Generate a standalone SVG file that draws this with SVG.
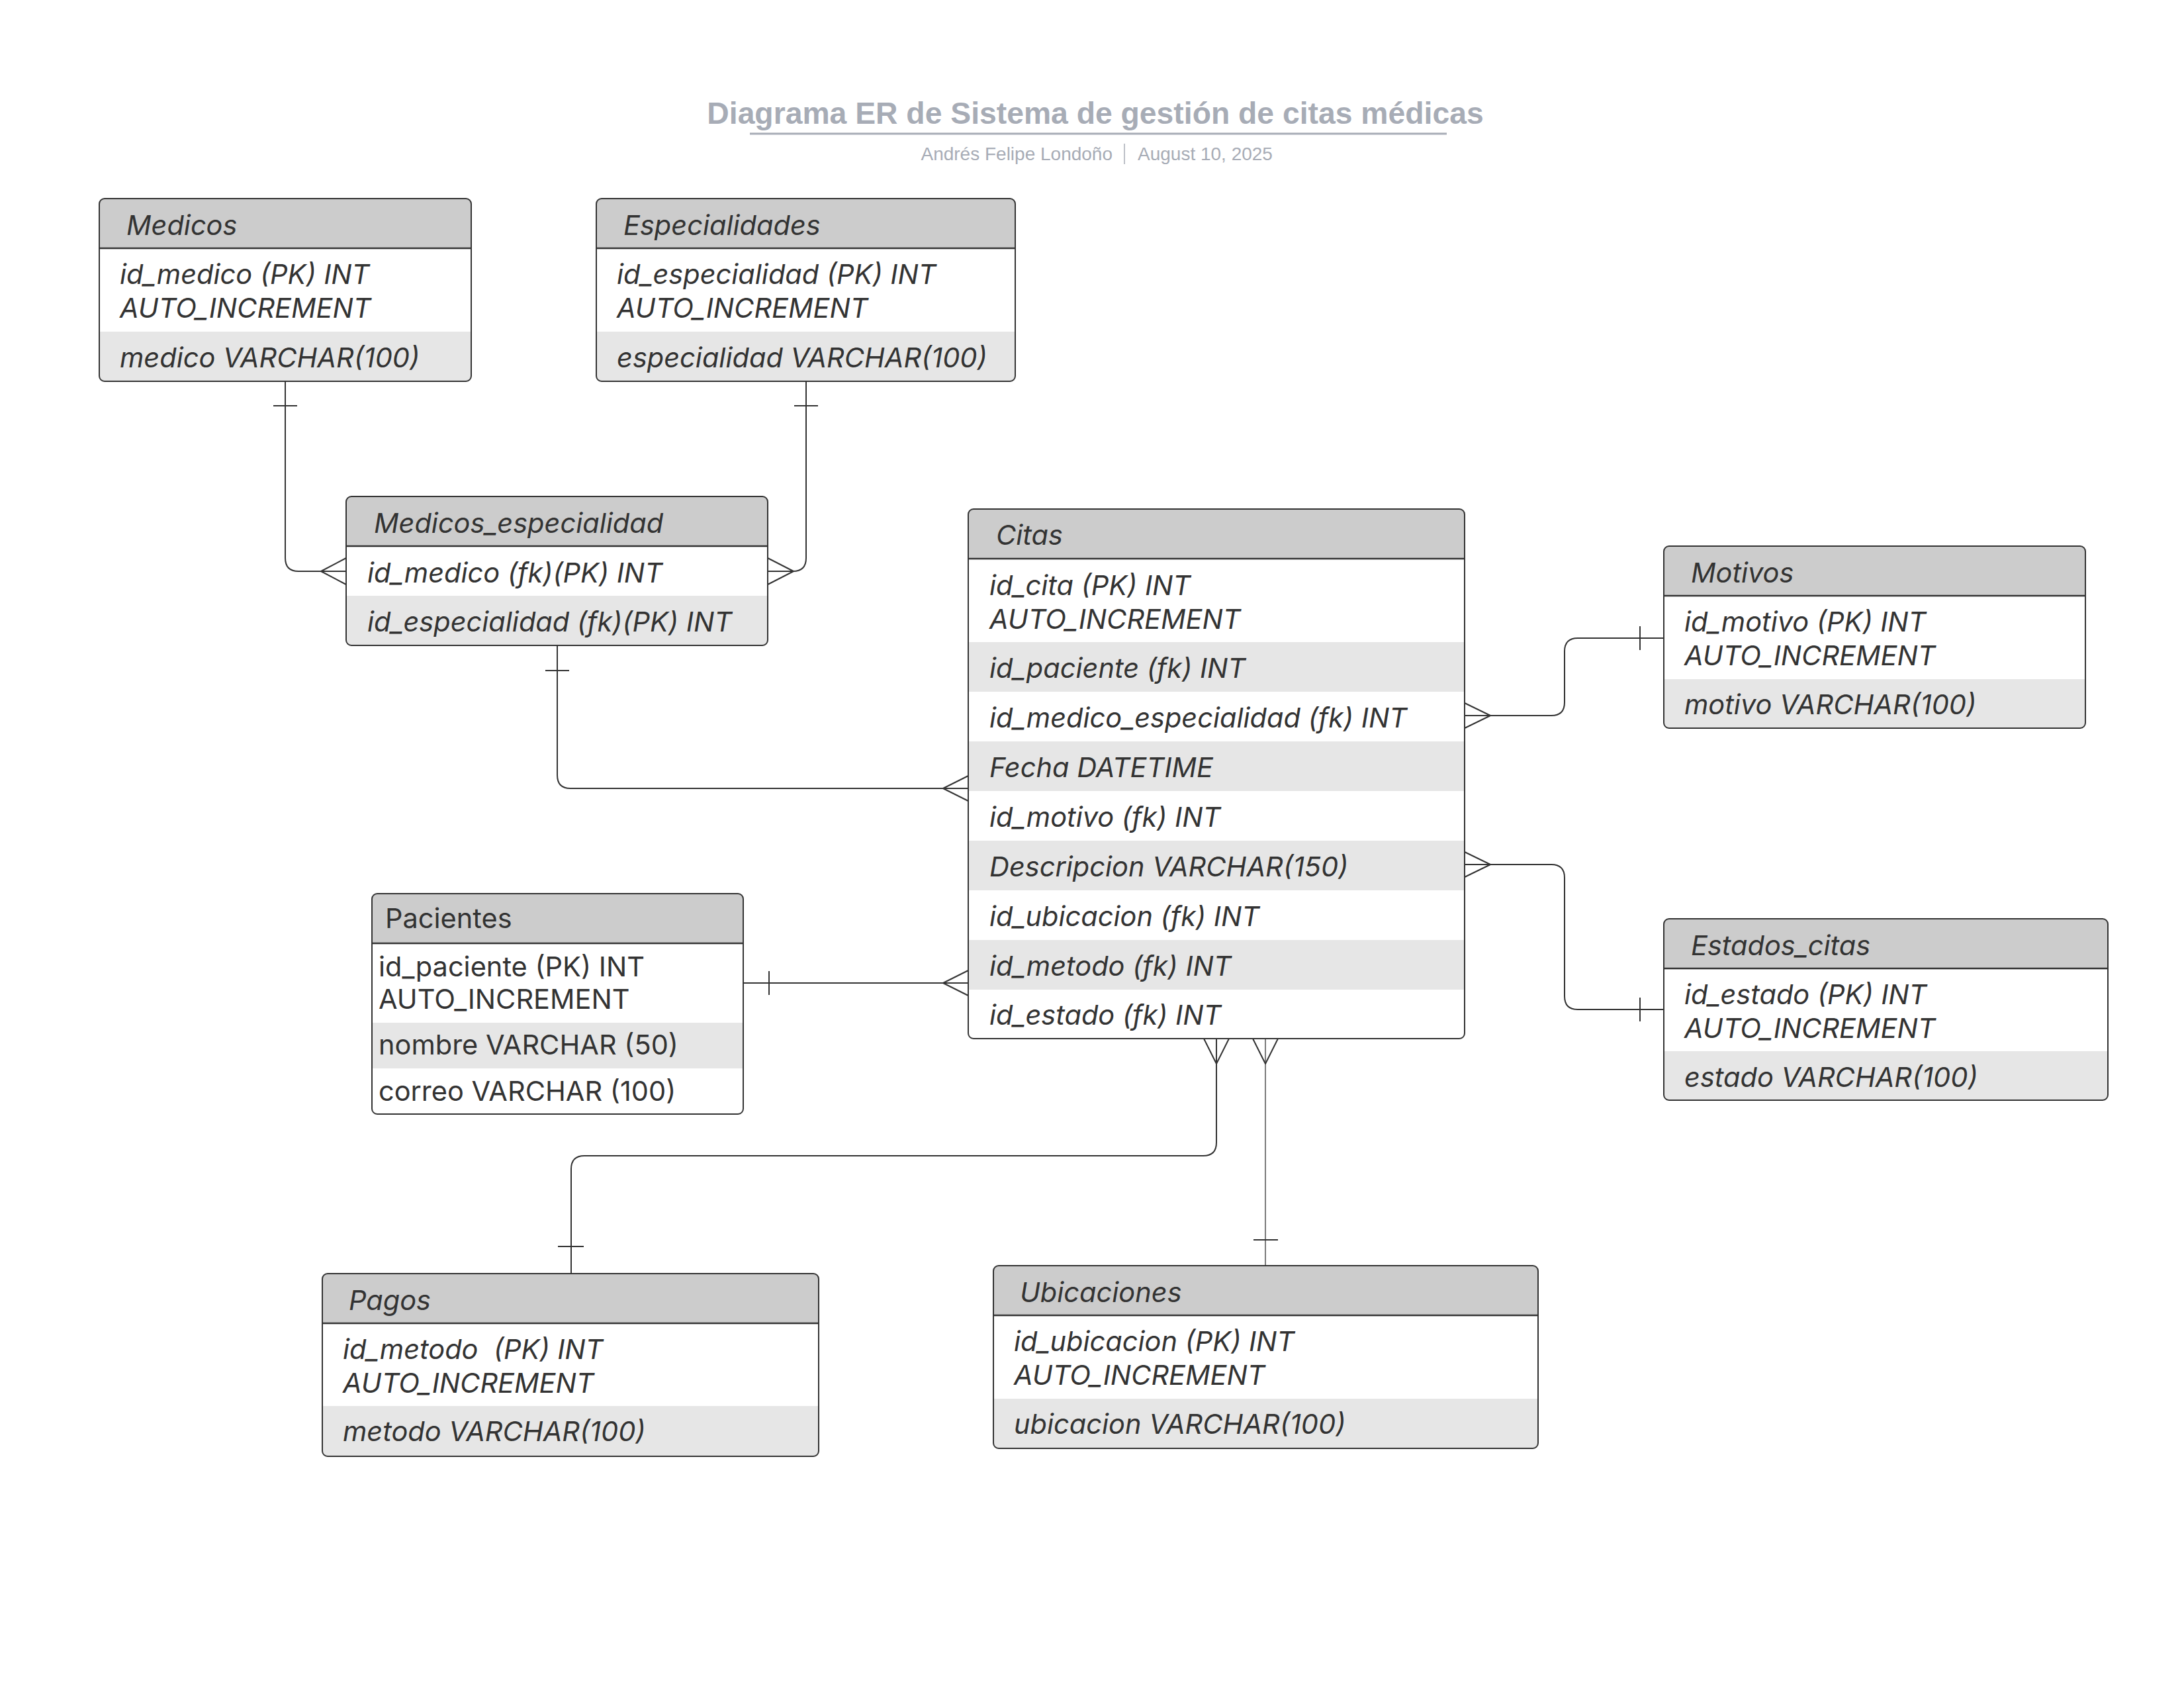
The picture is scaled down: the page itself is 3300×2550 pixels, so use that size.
<svg xmlns="http://www.w3.org/2000/svg" width="3300" height="2550" viewBox="0 0 3300 2550">
  <style>
    .bg { fill: #ffffff; }
    .title { font-family: "Liberation Sans", Arial, sans-serif; font-weight: bold; font-size: 46.3px; fill: #a7acb6; }
    .sub { font-family: "Liberation Sans", Arial, sans-serif; font-size: 28px; fill: #a7acb6; }
    .rule { stroke: #a7acb6; fill: none; }
    .body { fill: #ffffff; }
    .hdr { fill: #cccccc; }
    .alt { fill: #e6e6e6; }
    .sep { stroke: #333333; stroke-width: 2.5; fill: none; }
    .frame { fill: none; stroke: #333333; stroke-width: 2; }
    .t { font-family: Inter, "Liberation Sans", sans-serif; font-size: 41.5px; fill: #333333; font-style: italic; }
    .n { font-style: normal; }
    .conn { fill: none; stroke: #333333; stroke-width: 2; stroke-linejoin: round; }
    .thin { stroke-width: 1.3; }
  </style>

  <rect class="bg" x="0" y="0" width="3300" height="2550"/>

  <!-- heading -->
  <g id="heading">
    <text class="title" x="1655" y="187" text-anchor="middle">Diagrama ER de Sistema de gestión de citas médicas</text>
    <line class="rule" x1="1133" y1="202" x2="2186" y2="202" stroke-width="3"/>
    <text class="sub" x="1681" y="242" text-anchor="end">Andrés Felipe Londoño</text>
    <line class="rule" x1="1699" y1="217" x2="1699" y2="248" stroke-width="1.5"/>
    <text class="sub" x="1719" y="242">August 10, 2025</text>
  </g>

  <!-- relationships -->
  <g id="connectors">
    <!-- Medicos 1 — N Medicos_especialidad -->
    <path class="conn" d="M431,576 V843 Q431,863 451,863 H523"/>
    <path class="conn" d="M413,613 H449"/>
    <path class="conn" d="M523,843 L485,863 L523,883"/>
    <!-- Especialidades 1 — N Medicos_especialidad -->
    <path class="conn" d="M1218,576 V843 Q1218,863 1198,863 H1160"/>
    <path class="conn" d="M1200,613 H1236"/>
    <path class="conn" d="M1160,843 L1199,863 L1160,883"/>
    <!-- Medicos_especialidad 1 — N Citas -->
    <path class="conn" d="M842,975 V1171 Q842,1191 862,1191 H1463"/>
    <path class="conn" d="M824,1013 H860"/>
    <path class="conn" d="M1463,1172 L1425,1191 L1463,1210"/>
    <!-- Pacientes 1 — N Citas -->
    <path class="conn" d="M1123,1485 H1463"/>
    <path class="conn" d="M1162,1467 V1503"/>
    <path class="conn" d="M1463,1466 L1425,1485 L1463,1504"/>
    <!-- Citas N — 1 Motivos -->
    <path class="conn" d="M2213,1081 H2344 Q2364,1081 2364,1061 V984 Q2364,964 2384,964 H2514"/>
    <path class="conn" d="M2213,1062 L2252,1081 L2213,1100"/>
    <path class="conn" d="M2478,946 V982"/>
    <!-- Citas N — 1 Estados_citas -->
    <path class="conn" d="M2213,1306 H2344 Q2364,1306 2364,1326 V1505 Q2364,1525 2384,1525 H2514"/>
    <path class="conn" d="M2213,1287 L2252,1306 L2213,1325"/>
    <path class="conn" d="M2478,1507 V1543"/>
    <!-- Citas N — 1 Pagos -->
    <path class="conn" d="M1838,1569 V1726 Q1838,1746 1818,1746 H883 Q863,1746 863,1766 V1924"/>
    <path class="conn" d="M1819,1569 L1838,1607 L1857,1569"/>
    <path class="conn" d="M843,1883 H882"/>
    <!-- Citas N — 1 Ubicaciones -->
    <path class="conn thin" d="M1912,1569 V1912"/>
    <path class="conn" d="M1893,1569 L1912,1607 L1931,1569"/>
    <path class="conn" d="M1894,1873 H1931"/>
  </g>

  <!-- Medicos -->
  <g id="medicos">
    <rect class="body" x="150" y="300" width="562" height="276" rx="8"/>
    <path class="hdr" d="M150,375 V308 Q150,300 158,300 H704 Q712,300 712,308 V375 Z"/>
    <path class="alt" d="M150,501 H712 V568 Q712,576 704,576 H158 Q150,576 150,568 Z"/>
    <path class="sep" d="M150,375 H712"/>
    <rect class="frame" x="150" y="300" width="562" height="276" rx="8"/>
    <text class="t" x="191" y="355">Medicos</text>
    <text class="t" x="181" y="429">id_medico (PK) INT</text>
    <text class="t" x="181" y="480">AUTO_INCREMENT</text>
    <text class="t" x="181" y="555">medico VARCHAR(100)</text>
  </g>

  <!-- Especialidades -->
  <g id="especialidades">
    <rect class="body" x="901" y="300" width="633" height="276" rx="8"/>
    <path class="hdr" d="M901,375 V308 Q901,300 909,300 H1526 Q1534,300 1534,308 V375 Z"/>
    <path class="alt" d="M901,501 H1534 V568 Q1534,576 1526,576 H909 Q901,576 901,568 Z"/>
    <path class="sep" d="M901,375 H1534"/>
    <rect class="frame" x="901" y="300" width="633" height="276" rx="8"/>
    <text class="t" x="942" y="355">Especialidades</text>
    <text class="t" x="932" y="429">id_especialidad (PK) INT</text>
    <text class="t" x="932" y="480">AUTO_INCREMENT</text>
    <text class="t" x="932" y="555">especialidad VARCHAR(100)</text>
  </g>

  <!-- Medicos_especialidad -->
  <g id="medicos_especialidad">
    <rect class="body" x="523" y="750" width="637" height="225" rx="8"/>
    <path class="hdr" d="M523,825 V758 Q523,750 531,750 H1152 Q1160,750 1160,758 V825 Z"/>
    <path class="alt" d="M523,900 H1160 V967 Q1160,975 1152,975 H531 Q523,975 523,967 Z"/>
    <path class="sep" d="M523,825 H1160"/>
    <rect class="frame" x="523" y="750" width="637" height="225" rx="8"/>
    <text class="t" x="565" y="805">Medicos_especialidad</text>
    <text class="t" x="555" y="880">id_medico (fk)(PK) INT</text>
    <text class="t" x="555" y="954">id_especialidad (fk)(PK) INT</text>
  </g>

  <!-- Citas -->
  <g id="citas">
    <rect class="body" x="1463" y="769" width="750" height="800" rx="8"/>
    <path class="hdr" d="M1463,844 V777 Q1463,769 1471,769 H2205 Q2213,769 2213,777 V844 Z"/>
    <rect class="alt" x="1463" y="970" width="750" height="75"/>
    <rect class="alt" x="1463" y="1120" width="750" height="75"/>
    <rect class="alt" x="1463" y="1270" width="750" height="75"/>
    <rect class="alt" x="1463" y="1420" width="750" height="75"/>
    <path class="sep" d="M1463,844 H2213"/>
    <rect class="frame" x="1463" y="769" width="750" height="800" rx="8"/>
    <text class="t" x="1505" y="823">Citas</text>
    <text class="t" x="1495" y="899">id_cita (PK) INT</text>
    <text class="t" x="1495" y="950">AUTO_INCREMENT</text>
    <text class="t" x="1495" y="1024">id_paciente (fk) INT</text>
    <text class="t" x="1495" y="1099">id_medico_especialidad (fk) INT</text>
    <text class="t" x="1495" y="1174">Fecha DATETIME</text>
    <text class="t" x="1495" y="1249">id_motivo (fk) INT</text>
    <text class="t" x="1495" y="1324">Descripcion VARCHAR(150)</text>
    <text class="t" x="1495" y="1399">id_ubicacion (fk) INT</text>
    <text class="t" x="1495" y="1474">id_metodo (fk) INT</text>
    <text class="t" x="1495" y="1548">id_estado (fk) INT</text>
  </g>

  <!-- Motivos -->
  <g id="motivos">
    <rect class="body" x="2514" y="825" width="637" height="275" rx="8"/>
    <path class="hdr" d="M2514,900 V833 Q2514,825 2522,825 H3143 Q3151,825 3151,833 V900 Z"/>
    <path class="alt" d="M2514,1026 H3151 V1092 Q3151,1100 3143,1100 H2522 Q2514,1100 2514,1092 Z"/>
    <path class="sep" d="M2514,900 H3151"/>
    <rect class="frame" x="2514" y="825" width="637" height="275" rx="8"/>
    <text class="t" x="2555" y="880">Motivos</text>
    <text class="t" x="2545" y="954">id_motivo (PK) INT</text>
    <text class="t" x="2545" y="1005">AUTO_INCREMENT</text>
    <text class="t" x="2545" y="1079">motivo VARCHAR(100)</text>
  </g>

  <!-- Estados_citas -->
  <g id="estados_citas">
    <rect class="body" x="2514" y="1388" width="671" height="274" rx="8"/>
    <path class="hdr" d="M2514,1463 V1396 Q2514,1388 2522,1388 H3177 Q3185,1388 3185,1396 V1463 Z"/>
    <path class="alt" d="M2514,1588 H3185 V1654 Q3185,1662 3177,1662 H2522 Q2514,1662 2514,1654 Z"/>
    <path class="sep" d="M2514,1463 H3185"/>
    <rect class="frame" x="2514" y="1388" width="671" height="274" rx="8"/>
    <text class="t" x="2555" y="1443">Estados_citas</text>
    <text class="t" x="2545" y="1517">id_estado (PK) INT</text>
    <text class="t" x="2545" y="1568">AUTO_INCREMENT</text>
    <text class="t" x="2545" y="1642">estado VARCHAR(100)</text>
  </g>

  <!-- Pacientes -->
  <g id="pacientes">
    <rect class="body" x="562" y="1350" width="561" height="333" rx="8"/>
    <path class="hdr" d="M562,1425 V1358 Q562,1350 570,1350 H1115 Q1123,1350 1123,1358 V1425 Z"/>
    <rect class="alt" x="562" y="1545" width="561" height="69"/>
    <path class="sep" d="M562,1425 H1123"/>
    <rect class="frame" x="562" y="1350" width="561" height="333" rx="8"/>
    <text class="t n" x="582" y="1402">Pacientes</text>
    <text class="t n" x="572" y="1475">id_paciente (PK) INT</text>
    <text class="t n" x="572" y="1524">AUTO_INCREMENT</text>
    <text class="t n" x="572" y="1593">nombre VARCHAR (50)</text>
    <text class="t n" x="572" y="1663">correo VARCHAR (100)</text>
  </g>

  <!-- Pagos -->
  <g id="pagos">
    <rect class="body" x="487" y="1924" width="750" height="276" rx="8"/>
    <path class="hdr" d="M487,1999 V1932 Q487,1924 495,1924 H1229 Q1237,1924 1237,1932 V1999 Z"/>
    <path class="alt" d="M487,2124 H1237 V2192 Q1237,2200 1229,2200 H495 Q487,2200 487,2192 Z"/>
    <path class="sep" d="M487,1999 H1237"/>
    <rect class="frame" x="487" y="1924" width="750" height="276" rx="8"/>
    <text class="t" x="527" y="1979">Pagos</text>
    <text class="t" x="518" y="2053" xml:space="preserve">id_metodo  (PK) INT</text>
    <text class="t" x="518" y="2104">AUTO_INCREMENT</text>
    <text class="t" x="518" y="2177">metodo VARCHAR(100)</text>
  </g>

  <!-- Ubicaciones -->
  <g id="ubicaciones">
    <rect class="body" x="1501" y="1912" width="823" height="276" rx="8"/>
    <path class="hdr" d="M1501,1987 V1920 Q1501,1912 1509,1912 H2316 Q2324,1912 2324,1920 V1987 Z"/>
    <path class="alt" d="M1501,2113 H2324 V2180 Q2324,2188 2316,2188 H1509 Q1501,2188 1501,2180 Z"/>
    <path class="sep" d="M1501,1987 H2324"/>
    <rect class="frame" x="1501" y="1912" width="823" height="276" rx="8"/>
    <text class="t" x="1541" y="1967">Ubicaciones</text>
    <text class="t" x="1532" y="2041">id_ubicacion (PK) INT</text>
    <text class="t" x="1532" y="2092">AUTO_INCREMENT</text>
    <text class="t" x="1532" y="2166">ubicacion VARCHAR(100)</text>
  </g>
</svg>
